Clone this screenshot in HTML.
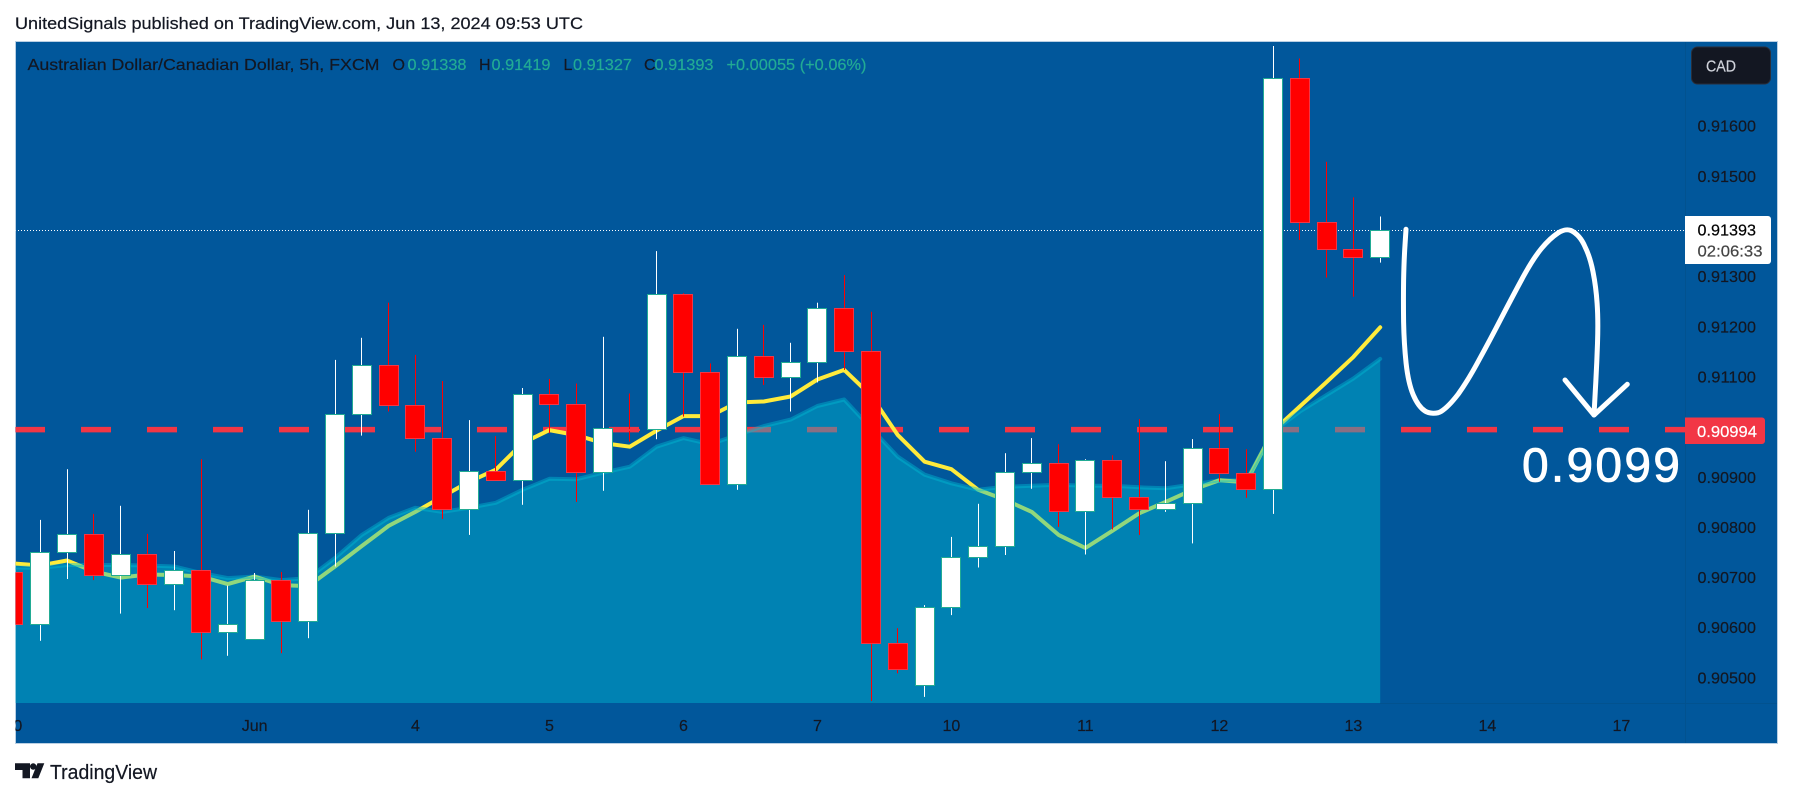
<!DOCTYPE html>
<html lang="en">
<head>
<meta charset="utf-8">
<title>AUD/CAD 5h chart</title>
<style>
html,body{margin:0;padding:0;background:#fff;width:1793px;height:798px;overflow:hidden}
svg{display:block}
text{font-family:"Liberation Sans",sans-serif;font-size:16px;stroke:currentColor;stroke-width:0.2px}
</style>
</head>
<body>
<svg id="chart" xmlns="http://www.w3.org/2000/svg" width="1793" height="798" viewBox="0 0 1793 798">
  <defs>
    <clipPath id="plot-clip"><rect x="15.5" y="41.5" width="1669.5" height="661.5"/></clipPath>
    <clipPath id="time-clip"><rect x="15.5" y="703" width="1669.5" height="41"/></clipPath>
  </defs>
  <rect x="0" y="0" width="1793" height="798" fill="#ffffff"/>
  <text x="15" y="29" font-size="17" style="font-size:17px;color:#131722" fill="#131722" textLength="568" lengthAdjust="spacingAndGlyphs">UnitedSignals published on TradingView.com, Jun 13, 2024 09:53 UTC</text>
  <rect x="15.5" y="41.5" width="1762" height="702" fill="#01579b" stroke="#b9cfe3" stroke-width="1"/>
  <g id="plot" clip-path="url(#plot-clip)"></g>
  <line x1="1685.5" y1="42" x2="1685.5" y2="743" stroke="#02528f" stroke-width="1"/>
  <line x1="1380" y1="703.5" x2="1777" y2="703.5" stroke="#02528f" stroke-width="1"/>
  <g id="time-axis" clip-path="url(#time-clip)" style="color:#131722"></g>
  <g id="price-axis" style="color:#131722"></g>

  <g style="color:#131722">
    <text x="27.5" y="70" fill="#131722" textLength="352" lengthAdjust="spacingAndGlyphs">Australian Dollar/Canadian Dollar, 5h, FXCM</text>
    <text x="392.5" y="70" fill="#131722">O</text>
    <text x="407.5" y="70" fill="#22ab94" style="color:#22ab94" textLength="59" lengthAdjust="spacingAndGlyphs">0.91338</text>
    <text x="479" y="70" fill="#131722">H</text>
    <text x="491.5" y="70" fill="#22ab94" style="color:#22ab94" textLength="59" lengthAdjust="spacingAndGlyphs">0.91419</text>
    <text x="563.5" y="70" fill="#131722">L</text>
    <text x="573" y="70" fill="#22ab94" style="color:#22ab94" textLength="59" lengthAdjust="spacingAndGlyphs">0.91327</text>
    <text x="644" y="70" fill="#131722">C</text>
    <text x="654.5" y="70" fill="#22ab94" style="color:#22ab94" textLength="59" lengthAdjust="spacingAndGlyphs">0.91393</text>
    <text x="726.5" y="70" fill="#22ab94" style="color:#22ab94" textLength="140" lengthAdjust="spacingAndGlyphs">+0.00055 (+0.06%)</text>
  </g>

  <g>
    <rect x="1691.5" y="47" width="79" height="37" rx="6" fill="#131722" stroke="#2a2e39" stroke-width="1"/>
    <text x="1706" y="71.5" fill="#d1d4dc" style="color:#d1d4dc" textLength="30" lengthAdjust="spacingAndGlyphs">CAD</text>
  </g>

  <g>
    <path d="M1685 216H1768a3 3 0 0 1 3 3V261a3 3 0 0 1-3 3H1685Z" fill="#ffffff"/>
    <text x="1697.5" y="235.5" fill="#000000" style="color:#000000" textLength="58.5" lengthAdjust="spacingAndGlyphs">0.91393</text>
    <text x="1697.5" y="256.5" fill="#444444" style="color:#444444" textLength="65" lengthAdjust="spacingAndGlyphs">02:06:33</text>
  </g>
  <g>
    <path d="M1685 417.5H1762a3 3 0 0 1 3 3V441a3 3 0 0 1-3 3H1685Z" fill="#f23645"/>
    <text x="1697" y="437" fill="#ffffff" style="color:#ffffff" textLength="60" lengthAdjust="spacingAndGlyphs">0.90994</text>
  </g>

  <g fill="none" stroke="#ffffff" stroke-width="5" stroke-linecap="round" stroke-linejoin="round">
    <path d="M1406 229.3L1405 245Q1404 260 1403.6 280Q1403.3 300 1403.6 322Q1404 343.3 1406.1 363.3Q1408.3 383.3 1413.3 395Q1418.3 406.7 1425 411C1429 413.7 1437 414 1441 411.5Q1448.3 407 1458.3 394Q1468.3 380 1479 360Q1490 340 1501.6 317.5Q1513.3 295 1523.3 276.6Q1533.3 258.3 1541.6 248.3Q1550 238.3 1558 233C1562 230.3 1567 229 1571 230.5Q1580 235 1585 246.7Q1590 256.7 1593 271.7Q1596 286.7 1597.1 303.3Q1598.3 320 1597.5 343.3Q1596.7 366.7 1595.3 391L1594 415"/>
    <path d="M1565 380L1594 415L1627.3 384.3"/>
  </g>
  <text x="1522" y="481.5" style="font-size:48px;color:#ffffff;stroke-width:0.8px" font-size="48" fill="#ffffff" textLength="158">0.9099</text>

  <g style="color:#131722">
    <path d="M15 763.3H30V778.3H22.5V770H15Z" fill="#131722"/>
    <circle cx="33.2" cy="766.5" r="3.2" fill="#131722"/>
    <path d="M37.5 763.3H44.3L38.3 778.3H31.5Z" fill="#131722"/>
    <text x="50" y="779" style="font-size:20px" font-size="20" fill="#131722" textLength="107" lengthAdjust="spacingAndGlyphs">TradingView</text>
  </g>
</svg>
<script>
// ---- chart data (prices in quote currency) ----
const opens = [0.90710,0.90606,0.90749,0.90785,0.90705,0.90745,0.90686,0.90715,0.90590,0.90576,0.90694,0.90612,0.90787,0.91025,0.91122,0.91044,0.90977,0.90836,0.90911,0.90893,0.91066,0.91046,0.90909,0.90996,0.90995,0.91264,0.91108,0.90885,0.91140,0.91098,0.91128,0.91236,0.91150,0.90568,0.90484,0.90640,0.90739,0.90761,0.90909,0.90927,0.90832,0.90933,0.90859,0.90835,0.90848,0.90957,0.90907,0.90875,0.91695,0.91407,0.91355,0.91338];
const highs = [0.90710,0.90814,0.90915,0.90826,0.90842,0.90786,0.90752,0.90935,0.90683,0.90708,0.90710,0.90834,0.91133,0.91177,0.91247,0.91143,0.91091,0.91013,0.90981,0.91077,0.91095,0.91086,0.91179,0.91066,0.91350,0.91266,0.91126,0.91195,0.91203,0.91167,0.91247,0.91302,0.91229,0.90598,0.90644,0.90780,0.90846,0.90947,0.90977,0.90965,0.90935,0.90943,0.91015,0.90931,0.90975,0.91025,0.90955,0.91759,0.91734,0.91528,0.91457,0.91419];
const lows = [0.90606,0.90573,0.90696,0.90694,0.90627,0.90638,0.90634,0.90536,0.90543,0.90576,0.90548,0.90578,0.90721,0.90982,0.91030,0.90950,0.90816,0.90784,0.90893,0.90844,0.90987,0.90850,0.90872,0.90970,0.90975,0.91020,0.90885,0.90874,0.91083,0.91030,0.91088,0.91113,0.90453,0.90508,0.90461,0.90624,0.90719,0.90744,0.90876,0.90800,0.90745,0.90795,0.90784,0.90830,0.90767,0.90890,0.90858,0.90826,0.91372,0.91297,0.91259,0.91327];
const closes = [0.90606,0.90749,0.90785,0.90705,0.90745,0.90686,0.90715,0.90590,0.90606,0.90694,0.90612,0.90787,0.91025,0.91122,0.91044,0.90977,0.90836,0.90911,0.90893,0.91066,0.91046,0.90909,0.90997,0.90995,0.91264,0.91108,0.90885,0.91140,0.91098,0.91128,0.91236,0.91150,0.90568,0.90516,0.90640,0.90739,0.90761,0.90909,0.90927,0.90832,0.90933,0.90859,0.90835,0.90848,0.90957,0.90907,0.90875,0.91695,0.91407,0.91355,0.91338,0.91393];
const fastAverage = [0.90727,0.90723,0.90733,0.90711,0.90699,0.90705,0.90704,0.90701,0.90686,0.90701,0.90684,0.90682,0.90721,0.90762,0.90802,0.90830,0.90860,0.90890,0.90914,0.90967,0.90993,0.90983,0.90967,0.90960,0.90992,0.91021,0.91021,0.91048,0.91050,0.91060,0.91094,0.91113,0.91062,0.90983,0.90930,0.90915,0.90874,0.90854,0.90830,0.90784,0.90758,0.90792,0.90827,0.90850,0.90874,0.90893,0.90889,0.90991,0.91040,0.91089,0.91139,0.91198];
const slowAverage = [0.90719,0.90718,0.90724,0.90724,0.90724,0.90723,0.90721,0.90708,0.90698,0.90701,0.90694,0.90698,0.90738,0.90784,0.90818,0.90838,0.90830,0.90838,0.90848,0.90874,0.90896,0.90895,0.90908,0.90920,0.90960,0.90977,0.90965,0.90983,0.91001,0.91014,0.91041,0.91054,0.90997,0.90940,0.90904,0.90887,0.90874,0.90880,0.90882,0.90884,0.90882,0.90882,0.90879,0.90877,0.90885,0.90893,0.90893,0.90990,0.91030,0.91063,0.91096,0.91135];
const priceTicks = [0.91600,0.91500,0.91300,0.91200,0.91100,0.90900,0.90800,0.90700,0.90600,0.90500];
const timeTickBars = [0,9,15,20,25,30,35,40,45,50,55,60];
const timeTickLabels = ["30","Jun","4","5","6","7","10","11","12","13","14","17"];
const supportLevel = 0.90994;
const lastPrice = 0.91393;

// ---- axis functions ----
function xAt(i){ return 13.4 + 26.8 * i; }
function yAt(p){ return 125.7 + (0.916 - p) * 50150; }

const NS = 'http://www.w3.org/2000/svg';
const plot = document.getElementById('plot');
const priceAxis = document.getElementById('price-axis');
const timeAxis = document.getElementById('time-axis');
const PLOT_LEFT = 15, PLOT_RIGHT = 1685, PLOT_BOTTOM = 703;

function mk(tag, attrs, parent){
  const el = document.createElementNS(NS, tag);
  for (const k in attrs) el.setAttribute(k, attrs[k]);
  parent.appendChild(el);
  return el;
}
function linePath(values){
  return values.map((v,i)=>(i?'L':'M')+xAt(i).toFixed(1)+' '+yAt(v).toFixed(1)).join('');
}

// last-price dotted line
const lastLine = mk('line',{x1:PLOT_LEFT,x2:PLOT_RIGHT,y1:Math.round(yAt(lastPrice))+0.5,y2:Math.round(yAt(lastPrice))+0.5,stroke:'#ffffff','stroke-width':1,'stroke-dasharray':'1 2'},plot);



// support level dashed line
const levelLine = mk('line',{x1:PLOT_LEFT,x2:PLOT_RIGHT,y1:yAt(supportLevel),y2:yAt(supportLevel),stroke:'#f23645','stroke-width':5.5,'stroke-dasharray':'30 36'},plot);



// fast average (yellow) sits beneath the translucent area
const fastLine = mk('path',{d:linePath(fastAverage),fill:'none',stroke:'#ffeb3b','stroke-width':4,'stroke-linecap':'round','stroke-linejoin':'round'},plot);



// slow average area + line
const lastIdx = slowAverage.length - 1;
const areaD = linePath(slowAverage) + 'L' + xAt(lastIdx).toFixed(1) + ' ' + PLOT_BOTTOM + 'L' + xAt(0).toFixed(1) + ' ' + PLOT_BOTTOM + 'Z';
const slowArea = mk('path',{d:areaD,fill:'#00bcd4','fill-opacity':0.43,stroke:'none'},plot);


const slowLine = mk('path',{d:linePath(slowAverage),fill:'none',stroke:'#00bcd4','stroke-opacity':0.43,'stroke-width':4,'stroke-linecap':'round','stroke-linejoin':'round'},plot);



// candles
opens.forEach(function(open,i){
  const close = closes[i], high = highs[i], low = lows[i];
  const up = close >= open;
  const cx = xAt(i);
  const fill = up ? '#ffffff' : '#ff0000';
  const border = up ? '#22ab94' : '#f23645';
  const wx = Math.round(cx - 0.5);
  const top = Math.round(yAt(Math.max(open,close)));
  const bot = Math.round(yAt(Math.min(open,close)));
  const wt = yAt(high), wb = yAt(low);
  const wick = mk('rect',{x:wx,y:wt.toFixed(1),width:1,height:Math.max(0,wb-wt).toFixed(1),fill:up?'#ffffff':'#ff0000'},plot);
  
  
  const body = mk('rect',{x:Math.round(cx-10)+0.5,y:top+0.5,width:19,height:Math.max(1,bot-top),fill:fill,stroke:border,'stroke-width':1},plot);
  
  
});

// price axis ticks
priceTicks.forEach(function(p){
  const t = mk('text',{x:1697.5,y:(yAt(p)+6).toFixed(1),fill:'#131722',textLength:58.5,lengthAdjust:'spacingAndGlyphs'},priceAxis);
  t.textContent = p.toFixed(5);
  
  
});

// time axis ticks
timeTickLabels.forEach(function(label,k){
  const t = mk('text',{x:xAt(timeTickBars[k]).toFixed(1),y:731,fill:'#131722','text-anchor':'middle'},timeAxis);
  t.textContent = label;
  
  
});
</script>
</body>
</html>
